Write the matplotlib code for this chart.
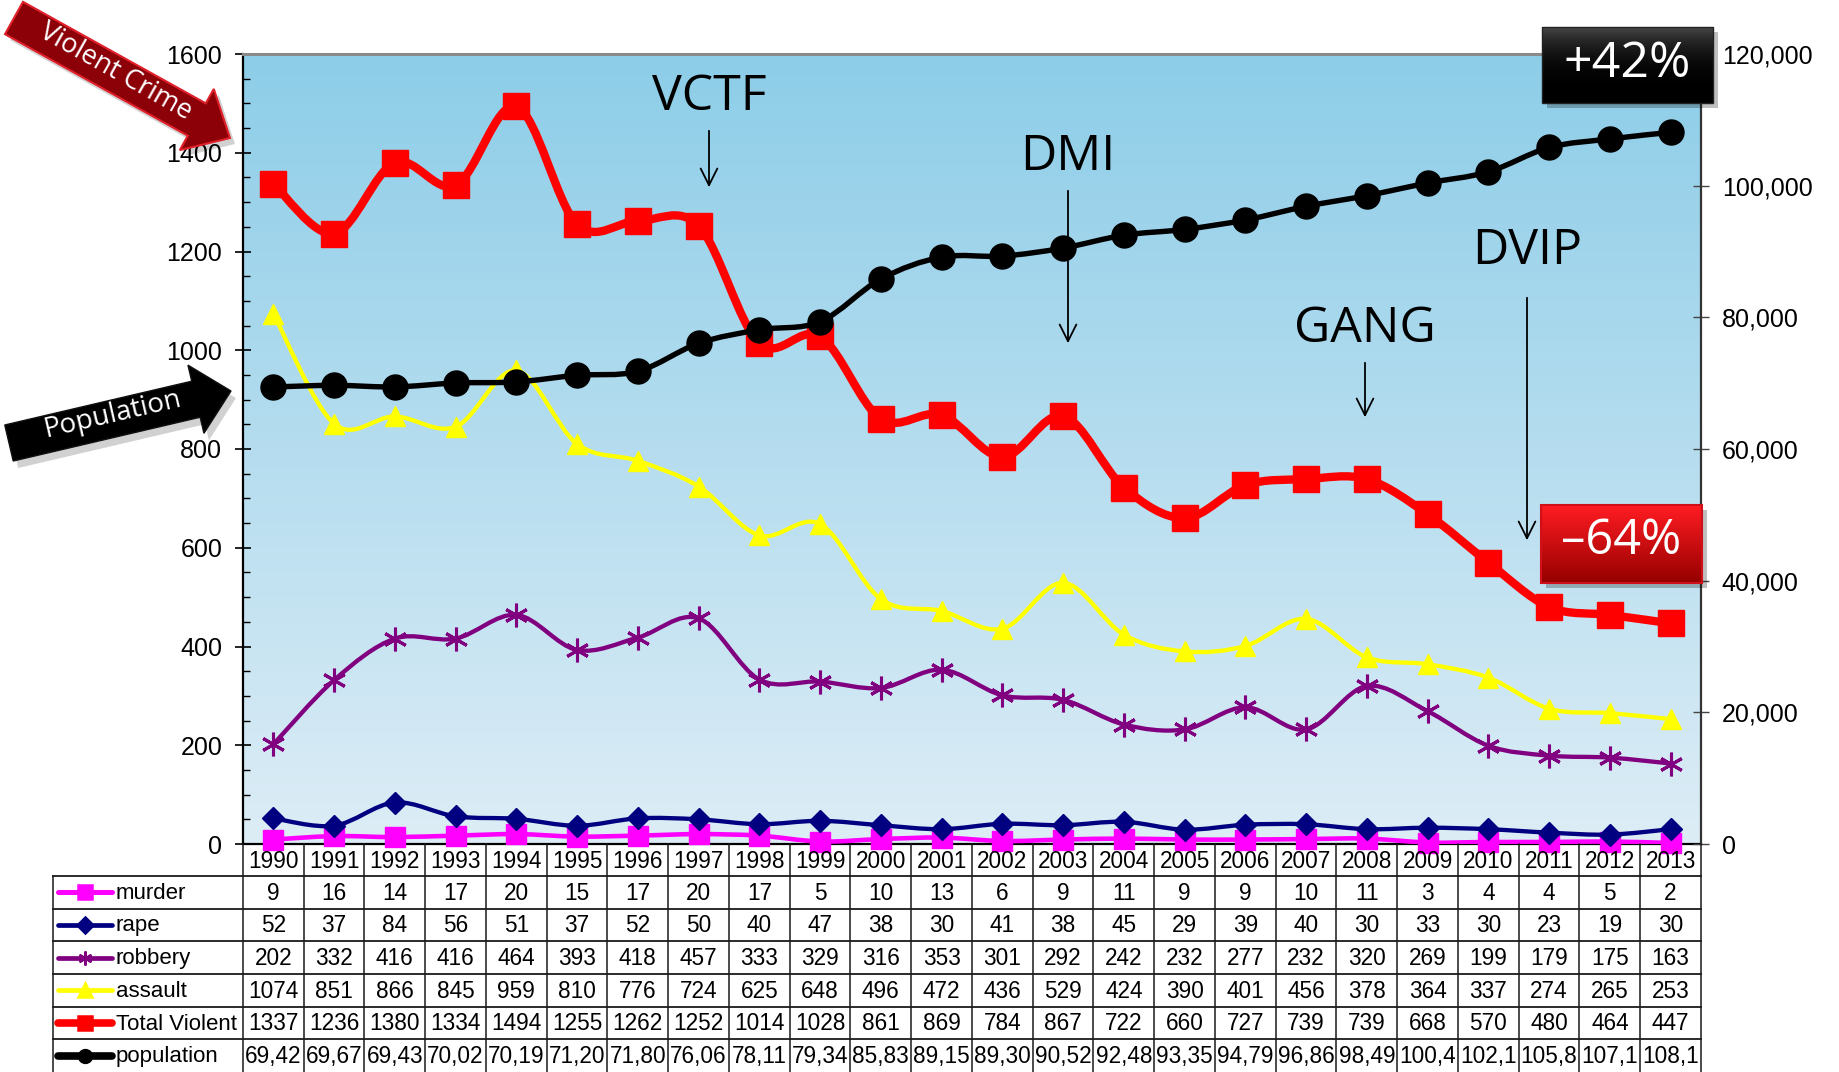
import numpy as np
import matplotlib
matplotlib.use("Agg")
import matplotlib.pyplot as plt
from matplotlib.path import Path
from matplotlib.patches import PathPatch, Polygon, Rectangle
from matplotlib import font_manager

# ---------------- data ----------------
years = [1990, 1991, 1992, 1993, 1994, 1995, 1996, 1997, 1998, 1999, 2000, 2001,
         2002, 2003, 2004, 2005, 2006, 2007, 2008, 2009, 2010, 2011, 2012, 2013]
murder = [9, 16, 14, 17, 20, 15, 17, 20, 17, 5, 10, 13, 6, 9, 11, 9, 9, 10, 11, 3, 4, 4, 5, 2]
rape = [52, 37, 84, 56, 51, 37, 52, 50, 40, 47, 38, 30, 41, 38, 45, 29, 39, 40, 30, 33, 30, 23, 19, 30]
robbery = [202, 332, 416, 416, 464, 393, 418, 457, 333, 329, 316, 353, 301, 292, 242, 232, 277, 232,
           320, 269, 199, 179, 175, 163]
assault = [1074, 851, 866, 845, 959, 810, 776, 724, 625, 648, 496, 472, 436, 529, 424, 390, 401, 456,
           378, 364, 337, 274, 265, 253]
total_violent = [1337, 1236, 1380, 1334, 1494, 1255, 1262, 1252, 1014, 1028, 861, 869, 784, 867, 722,
                 660, 727, 739, 739, 668, 570, 480, 464, 447]
population = [69420, 69670, 69430, 70020, 70190, 71200, 71800, 76060, 78110, 79340, 85830, 89150,
              89300, 90520, 92480, 93350, 94790, 96860, 98490, 100400, 102100, 105800, 107100, 108100]
series_names = ["murder", "rape", "robbery", "assault", "Total Violent", "population"]
left_ticks = [0, 200, 400, 600, 800, 1000, 1200, 1400, 1600]
right_ticks = [0, 20000, 40000, 60000, 80000, 100000, 120000]
programs = ["VCTF", "DMI", "GANG", "DVIP"]
changes = ["+42%", "\u201364%"]

# ---------------- helpers ----------------
def narrow_family():
    for fam in ["Liberation Sans Narrow", "Arial Narrow"]:
        try:
            font_manager.findfont(font_manager.FontProperties(family=fam), fallback_to_default=False)
            return fam
        except Exception:
            pass
    return None

NARROW = narrow_family()
TABLE_FAM = NARROW if NARROW else "Liberation Sans"
TABLE_FS = 18 if NARROW else 16.3
LABEL_FS = 18 if NARROW else 16
plt.rcParams["font.family"] = ["Liberation Sans", "DejaVu Sans"]
HUMAN = ["Open Sans", "DejaVu Sans"]


def smooth_path(x, y):
    x = np.asarray(x, float)
    y = np.asarray(y, float)
    n = len(x)
    verts = [(x[0], y[0])]
    codes = [Path.MOVETO]
    for i in range(n - 1):
        i0 = max(i - 1, 0)
        i3 = min(i + 2, n - 1)
        c1 = (x[i] + (x[i + 1] - x[i0]) / 6.0, y[i] + (y[i + 1] - y[i0]) / 6.0)
        c2 = (x[i + 1] - (x[i3] - x[i]) / 6.0, y[i + 1] - (y[i3] - y[i]) / 6.0)
        verts += [c1, c2, (x[i + 1], y[i + 1])]
        codes += [Path.CURVE4] * 3
    return Path(verts, codes)


def draw_series(ax, x, y, color, lw, marker, ms, z, mew=1.0):
    ax.add_patch(PathPatch(smooth_path(x, y), fill=False, edgecolor=color, lw=lw,
                           zorder=z, capstyle="round", joinstyle="round"))
    ax.plot(x, y, linestyle="none", marker=marker, ms=ms, color=color,
            markeredgecolor=color, mew=mew, zorder=z + 0.1, clip_on=False)


# ---------------- figure ----------------
W, H = 1839, 1072
fig = plt.figure(figsize=(W / 100, H / 100), dpi=100)
L, R, T, B = 243, 1701, 54, 844
ax = fig.add_axes([L / W, 1 - B / H, (R - L) / W, (B - T) / H])
xi = np.arange(len(years))
ax.set_xlim(-0.5, len(years) - 0.5)
ax.set_ylim(0, 1600)

# gradient background
grad = np.linspace(0, 1, 256).reshape(-1, 1)
top = np.array([141, 205, 232]) / 255
bot = np.array([221, 237, 246]) / 255
img = top * (1 - grad[:, :, None]) + bot * grad[:, :, None]
ax.imshow(img, extent=[0, 1, 0, 1], transform=ax.transAxes, aspect="auto", zorder=0)

draw_series(ax, xi, murder, "#FF00FF", 3.3, "s", 14, 3)
draw_series(ax, xi, rape, "#000080", 3.1, "D", 11.5, 4)
draw_series(ax, xi, robbery, "#800080", 3.1, (6, 2, 0), 17, 5, mew=2.2)
draw_series(ax, xi, assault, "#FFFF00", 3.1, "^", 14, 6)
draw_series(ax, xi, total_violent, "#FF0000", 6.0, "s", 18.5, 7)

ax.set_yticks(left_ticks)
ax.set_yticklabels([str(t) for t in left_ticks], fontsize=18)
ax.set_yticks(np.arange(0, 1601, 50), minor=True)
ax.tick_params(axis="y", which="major", direction="inout", length=12, width=1.2, pad=9)
ax.tick_params(axis="y", which="minor", direction="in", length=5, width=1.0)
ax.set_xticks([])
for s in ["left", "bottom"]:
    ax.spines[s].set_color("black")
    ax.spines[s].set_linewidth(1.6)
ax.spines["top"].set_color("#8a8a8a")
ax.spines["top"].set_linewidth(2.2)
ax.spines["right"].set_visible(False)

ax2 = ax.twinx()
ax2.set_ylim(0, 120000)
ax2.set_xlim(-0.5, len(years) - 0.5)
draw_series(ax2, xi, population, "black", 3.9, "o", 18, 8)
ax2.set_yticks(right_ticks)
ax2.set_yticklabels([f"{t:,}" for t in right_ticks], fontsize=18)
ax2.tick_params(axis="y", which="major", direction="inout", length=12, width=1.0, pad=9,
                color="#444444")
ax2.spines["right"].set_color("#333333")
ax2.spines["right"].set_linewidth(1.6)
for s in ["left", "top", "bottom"]:
    ax2.spines[s].set_visible(False)

# ---------------- data table ----------------
TB_TOP = B
ROW0 = 876
tab = fig.add_axes([0, 0, 1, 1], zorder=1)
tab.set_xlim(0, W)
tab.set_ylim(H, 0)
tab.axis("off")
colw = (R - L) / len(years)
row_h = (H - ROW0) / 6.0
lc = "#1a1a1a"
for k in range(len(years) + 1):
    xx = L + k * colw
    tab.plot([xx, xx], [TB_TOP, H], color=lc, lw=1.1)
tab.plot([53, 53], [ROW0, H], color=lc, lw=1.1)
for r in range(6):
    yy = ROW0 + r * row_h
    tab.plot([53, R], [yy, yy], color=lc, lw=1.3)
for k, yr in enumerate(years):
    tab.text(L + (k + 0.5) * colw, (TB_TOP + ROW0) / 2 + 1, str(yr), ha="center", va="center",
             fontsize=TABLE_FS, family=TABLE_FAM)

rows = [
    (murder, "#FF00FF", "s", 3.6, 10),
    (rape, "#000080", "D", 3.4, 8),
    (robbery, "#800080", (6, 2, 0), 3.4, 10),
    (assault, "#FFFF00", "^", 3.4, 10),
    (total_violent, "#FF0000", "s", 5.5, 10),
]
KX0, KX1, KM, TX = 58, 112, 85, 116
for r, (vals, col, mk, lw, ms) in enumerate(rows):
    yc = ROW0 + (r + 0.5) * row_h
    tab.plot([KX0, KX1], [yc, yc], color=col, lw=lw, solid_capstyle="round")
    tab.plot([KM], [yc], marker=mk, color=col, ms=ms, mew=1.8)
    tab.text(TX, yc + 1, series_names[r], ha="left", va="center", fontsize=LABEL_FS,
             family=TABLE_FAM)
    for k, v in enumerate(vals):
        tab.text(L + (k + 0.5) * colw, yc + 1, str(v), ha="center", va="center",
                 fontsize=TABLE_FS, family=TABLE_FAM)
yc = ROW0 + 5.5 * row_h
tab.plot([KX0, KX1], [yc, yc], color="black", lw=5.5, solid_capstyle="round")
tab.plot([KM], [yc], marker="o", color="black", ms=10)
tab.text(TX, yc + 1, series_names[5], ha="left", va="center", fontsize=LABEL_FS,
         family=TABLE_FAM)
for k, v in enumerate(population):
    tab.text(L + (k + 0.5) * colw, yc + 1, f"{v:,}"[:5], ha="center", va="center",
             fontsize=TABLE_FS, family=TABLE_FAM)

# ---------------- overlay annotations ----------------
ov = fig.add_axes([0, 0, 1, 1], zorder=20)
ov.set_xlim(0, W)
ov.set_ylim(H, 0)
ov.axis("off")

# program labels with arrows
prog_pos = [(709, 97, 128, 190), (1068, 157, 188, 346), (1365, 329, 360, 420), (1527, 251, 295, 543)]
for name, (px, ty, a0, a1) in zip(programs, prog_pos):
    ov.text(px, ty, name, ha="center", va="center", fontsize=36, family=HUMAN, color="black")
    ov.annotate("", xy=(px, a1), xytext=(px, a0),
                arrowprops=dict(arrowstyle="->", lw=1.3, color="black",
                                mutation_scale=30))


def arrow_poly(tail, tip, sw, hw, hl):
    tail = np.asarray(tail, float)
    tip = np.asarray(tip, float)
    d = tip - tail
    Ln = np.hypot(*d)
    u = d / Ln
    n = np.array([-u[1], u[0]])
    base = tail + u * (Ln - hl)
    return [tail + n * sw / 2, base + n * sw / 2, base + n * hw / 2, tip,
            base - n * hw / 2, base - n * sw / 2, tail - n * sw / 2]


# Violent Crime arrow
pts = arrow_poly((14, 18), (230, 138), 37, 70, 38)
ov.add_patch(Polygon(np.array(pts) + [5, 6], closed=True, facecolor="black", alpha=0.18,
                     edgecolor="none"))
ov.add_patch(Polygon(pts, closed=True, facecolor="#8C0008", edgecolor="#E0202A", lw=1.5))
ov.text(116, 72, "Violent Crime", rotation=-29.5, rotation_mode="anchor", ha="center",
        va="center", fontsize=19.5, family=HUMAN, color="white")

# Population arrow
pts = arrow_poly((9, 443), (231, 391), 37, 70, 36)
ov.add_patch(Polygon(np.array(pts) + [5, 7], closed=True, facecolor="black", alpha=0.18,
                     edgecolor="none"))
ov.add_patch(Polygon(pts, closed=True, facecolor="black", edgecolor="#111111", lw=1))
ov.text(112, 415, "Population", rotation=13, rotation_mode="anchor", ha="center",
        va="center", fontsize=20, family=HUMAN, color="white")

# +42% box
g = np.linspace(0, 1, 64).reshape(-1, 1)
ov.add_patch(Rectangle((1547, 32), 171, 76, facecolor="black", alpha=0.25, edgecolor="none"))
blk = np.array([70, 70, 70]) / 255 * (1 - g[:, :, None]) ** 3
ov.imshow(np.clip(blk, 0, 1), extent=[1542, 1713, 103, 27], aspect="auto", zorder=2)
ov.add_patch(Rectangle((1542, 27), 171, 76, facecolor="none", edgecolor="#222222", lw=1,
                       zorder=3))
ov.text(1627, 64, changes[0], ha="center", va="center", fontsize=36, family=HUMAN,
        color="white", zorder=4)

# -64% box
ov.add_patch(Rectangle((1546, 510), 161, 78, facecolor="black", alpha=0.25, edgecolor="none"))
c1 = np.array([255, 28, 34]) / 255
c2 = np.array([150, 0, 0]) / 255
red = c1 * (1 - g[:, :, None]) + c2 * g[:, :, None]
ov.imshow(red, extent=[1541, 1702, 583, 505], aspect="auto", zorder=2)
ov.add_patch(Rectangle((1541, 505), 161, 78, facecolor="none", edgecolor="#D01018", lw=1.5,
                       zorder=3))
ov.text(1621, 541, changes[1], ha="center", va="center", fontsize=35, family=HUMAN,
        color="white", zorder=4)
ov.set_xlim(0, W)
ov.set_ylim(H, 0)

fig.savefig("out.png", dpi=100)
